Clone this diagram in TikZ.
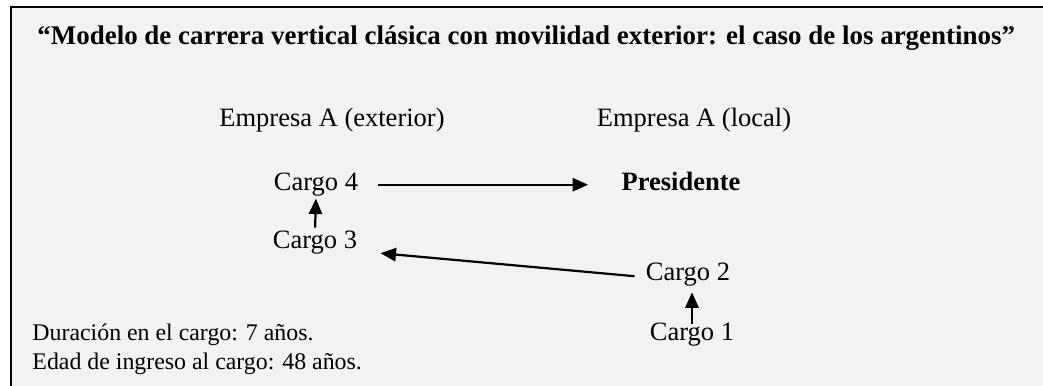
\documentclass[tikz,border=0pt]{standalone}
\usepackage{fontspec}
\setmainfont{Liberation Serif}
\usetikzlibrary{arrows.meta,calc}
\definecolor{panelgray}{HTML}{F2F2F2}
\tikzset{
  lbl/.style={inner sep=0pt, font=\fontsize{12}{14}\selectfont, text height=0.7em, text depth=0.22em},
  note/.style={inner sep=0pt, anchor=base west, font=\fontsize{10.8}{13}\selectfont},
  arr/.style={-{Triangle[length=7pt,width=6pt]}, line width=1pt}
}
\begin{document}
\begin{tikzpicture}[x=0.4528pt, y=-0.4528pt]
      % Page and panel
      \useasboundingbox (0,0) rectangle (1043,385);
      \clip (0,0) rectangle (1043,385);
      \draw[line width=0.9pt, fill=panelgray] (11,7) rectangle (1070,410);

      % Title
      \node[lbl, anchor=base west, font=\fontsize{12.2}{14}\selectfont\bfseries] (title) at (37,44)
        {“Modelo de carrera vertical clásica con movilidad exterior: el caso de los argentinos”};

      % Column headers
      \node[lbl, anchor=base] (extA) at (332,126) {Empresa A (exterior)};
      \node[lbl, anchor=base] (locA) at (694,126) {Empresa A (local)};

      % Positions
      \node[lbl, anchor=base] (c4) at (316,190) {Cargo 4};
      \node[lbl, anchor=base, font=\fontsize{12}{14}\selectfont\bfseries] (pres) at (681,190) {Presidente};
      \node[lbl, anchor=base] (c3) at (315,248) {Cargo 3};
      \node[lbl, anchor=base] (c2) at (688,280) {Cargo 2};
      \node[lbl, anchor=base] (c1) at (692,340) {Cargo 1};

      % Career path
      \draw[arr, shorten >=3.2pt] (c1.north) -- (c1.north |- c2.south);
      \draw[arr] ($(c2.west)+(-11,1.5)$) -- ($(c3.east)+(23,10.5)$);
      \draw[arr, shorten <=2pt, shorten >=1.5pt] (c3.north) -- (c4.south);
      \draw[arr, shorten <=9pt, shorten >=15pt] (c4.east) -- (pres.west);

      % Notes
      \node[note] (dur) at (32,340) {Duración en el cargo: 7 años.};
      \node[note] (edad) at (32,369) {Edad de ingreso al cargo: 48 años.};
    \end{tikzpicture}
\end{document}
